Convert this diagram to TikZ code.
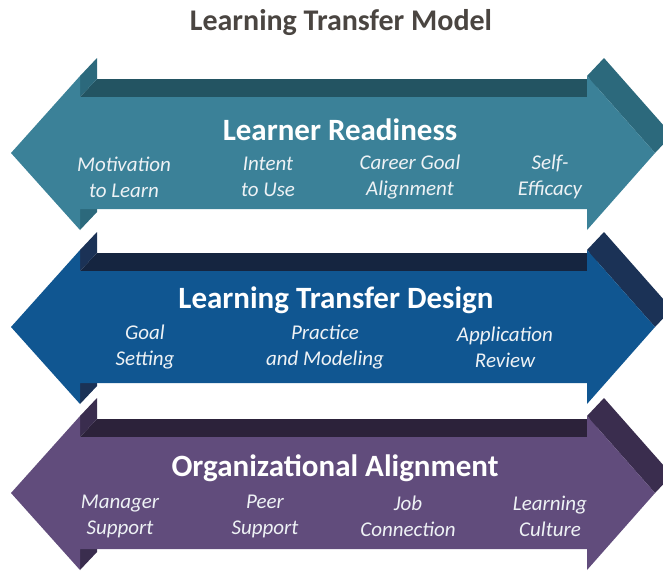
\documentclass[tikz,border=0pt]{standalone}
\usepackage{fontspec}
\setmainfont{Carlito}
\definecolor{tealface}{HTML}{3B8198}
\definecolor{tealtop}{HTML}{235462}
\definecolor{tealside}{HTML}{2C697C}
\definecolor{blueface}{HTML}{105691}
\definecolor{bluetop}{HTML}{152540}
\definecolor{blueside}{HTML}{1B3256}
\definecolor{purpface}{HTML}{614C7C}
\definecolor{purptop}{HTML}{2C223A}
\definecolor{purpside}{HTML}{3A2D4E}
\definecolor{titlegrey}{HTML}{4A4541}
\definecolor{labelwhite}{HTML}{EEF2F5}
% one extruded double-headed band, centred on height #1
\newcommand\bandarrow[4]{%
  \begin{scope}[shift={(0,#1)}]
    \fill[#3] (80,-56) -- (587,-56) -- (604,-74) -- (97,-74) -- cycle;
    \fill[#4] (80,-77) -- (80,-56) -- (97,-74) -- (97,-95) -- cycle;
    \fill[#4] (80,56) -- (80,77) -- (97,59) -- (97,38) -- cycle;
    \fill[#4] (587,-77) -- (655,0) -- (672,-18) -- (604,-95) -- cycle;
    \fill[#2] (11,0) -- (80,-77) -- (80,-56) -- (587,-56) -- (587,-77)
      -- (655,0) -- (587,77) -- (587,56) -- (80,56) -- (80,77) -- cycle;
  \end{scope}}
\begin{document}
\begin{tikzpicture}[x=1pt,y=-1pt,
  maintitle/.style={text=titlegrey,font=\fontsize{30}{36}\selectfont\bfseries,inner sep=0pt},
  bandtitle/.style={text=white,font=\fontsize{31}{36}\selectfont\bfseries,inner sep=0pt},
  factor/.style={text=labelwhite,font=\fontsize{21}{26}\selectfont\itshape,align=center,inner sep=0pt}]
\useasboundingbox (0,0) rectangle (663,571);
\clip (0,0) rectangle (663,571);

\bandarrow{153}{tealface}{tealtop}{tealside}
\bandarrow{327}{blueface}{bluetop}{blueside}
\bandarrow{493}{purpface}{purptop}{purpside}

\node[maintitle] (title) at (341,23) {Learning Transfer Model};

% learner readiness
\node[bandtitle] (lr) at (340,130) {Learner Readiness};
\node[factor] (lr1) at (124,177) {Motivation\\to Learn};
\node[factor] (lr2) at (268,177) {Intent\\to Use};
\node[factor] (lr3) at (410,177) {Career Goal\\Alignment};
\node[factor] (lr4) at (550,177) {Self-\\Efficacy};

% learning transfer design
\node[bandtitle] (ltd) at (336,300) {Learning Transfer Design};
\node[factor] (ltd1) at (145,347) {Goal\\Setting};
\node[factor] (ltd2) at (325,347) {Practice\\and Modeling};
\node[factor] (ltd3) at (505,347) {Application\\Review};

% organizational alignment
\node[bandtitle] (oa) at (335,468) {Organizational Alignment};
\node[factor] (oa1) at (120,516) {Manager\\Support};
\node[factor] (oa2) at (265,516) {Peer\\Support};
\node[factor] (oa3) at (408,516) {Job\\Connection};
\node[factor] (oa4) at (550,516) {Learning\\Culture};
\end{tikzpicture}
\end{document}
